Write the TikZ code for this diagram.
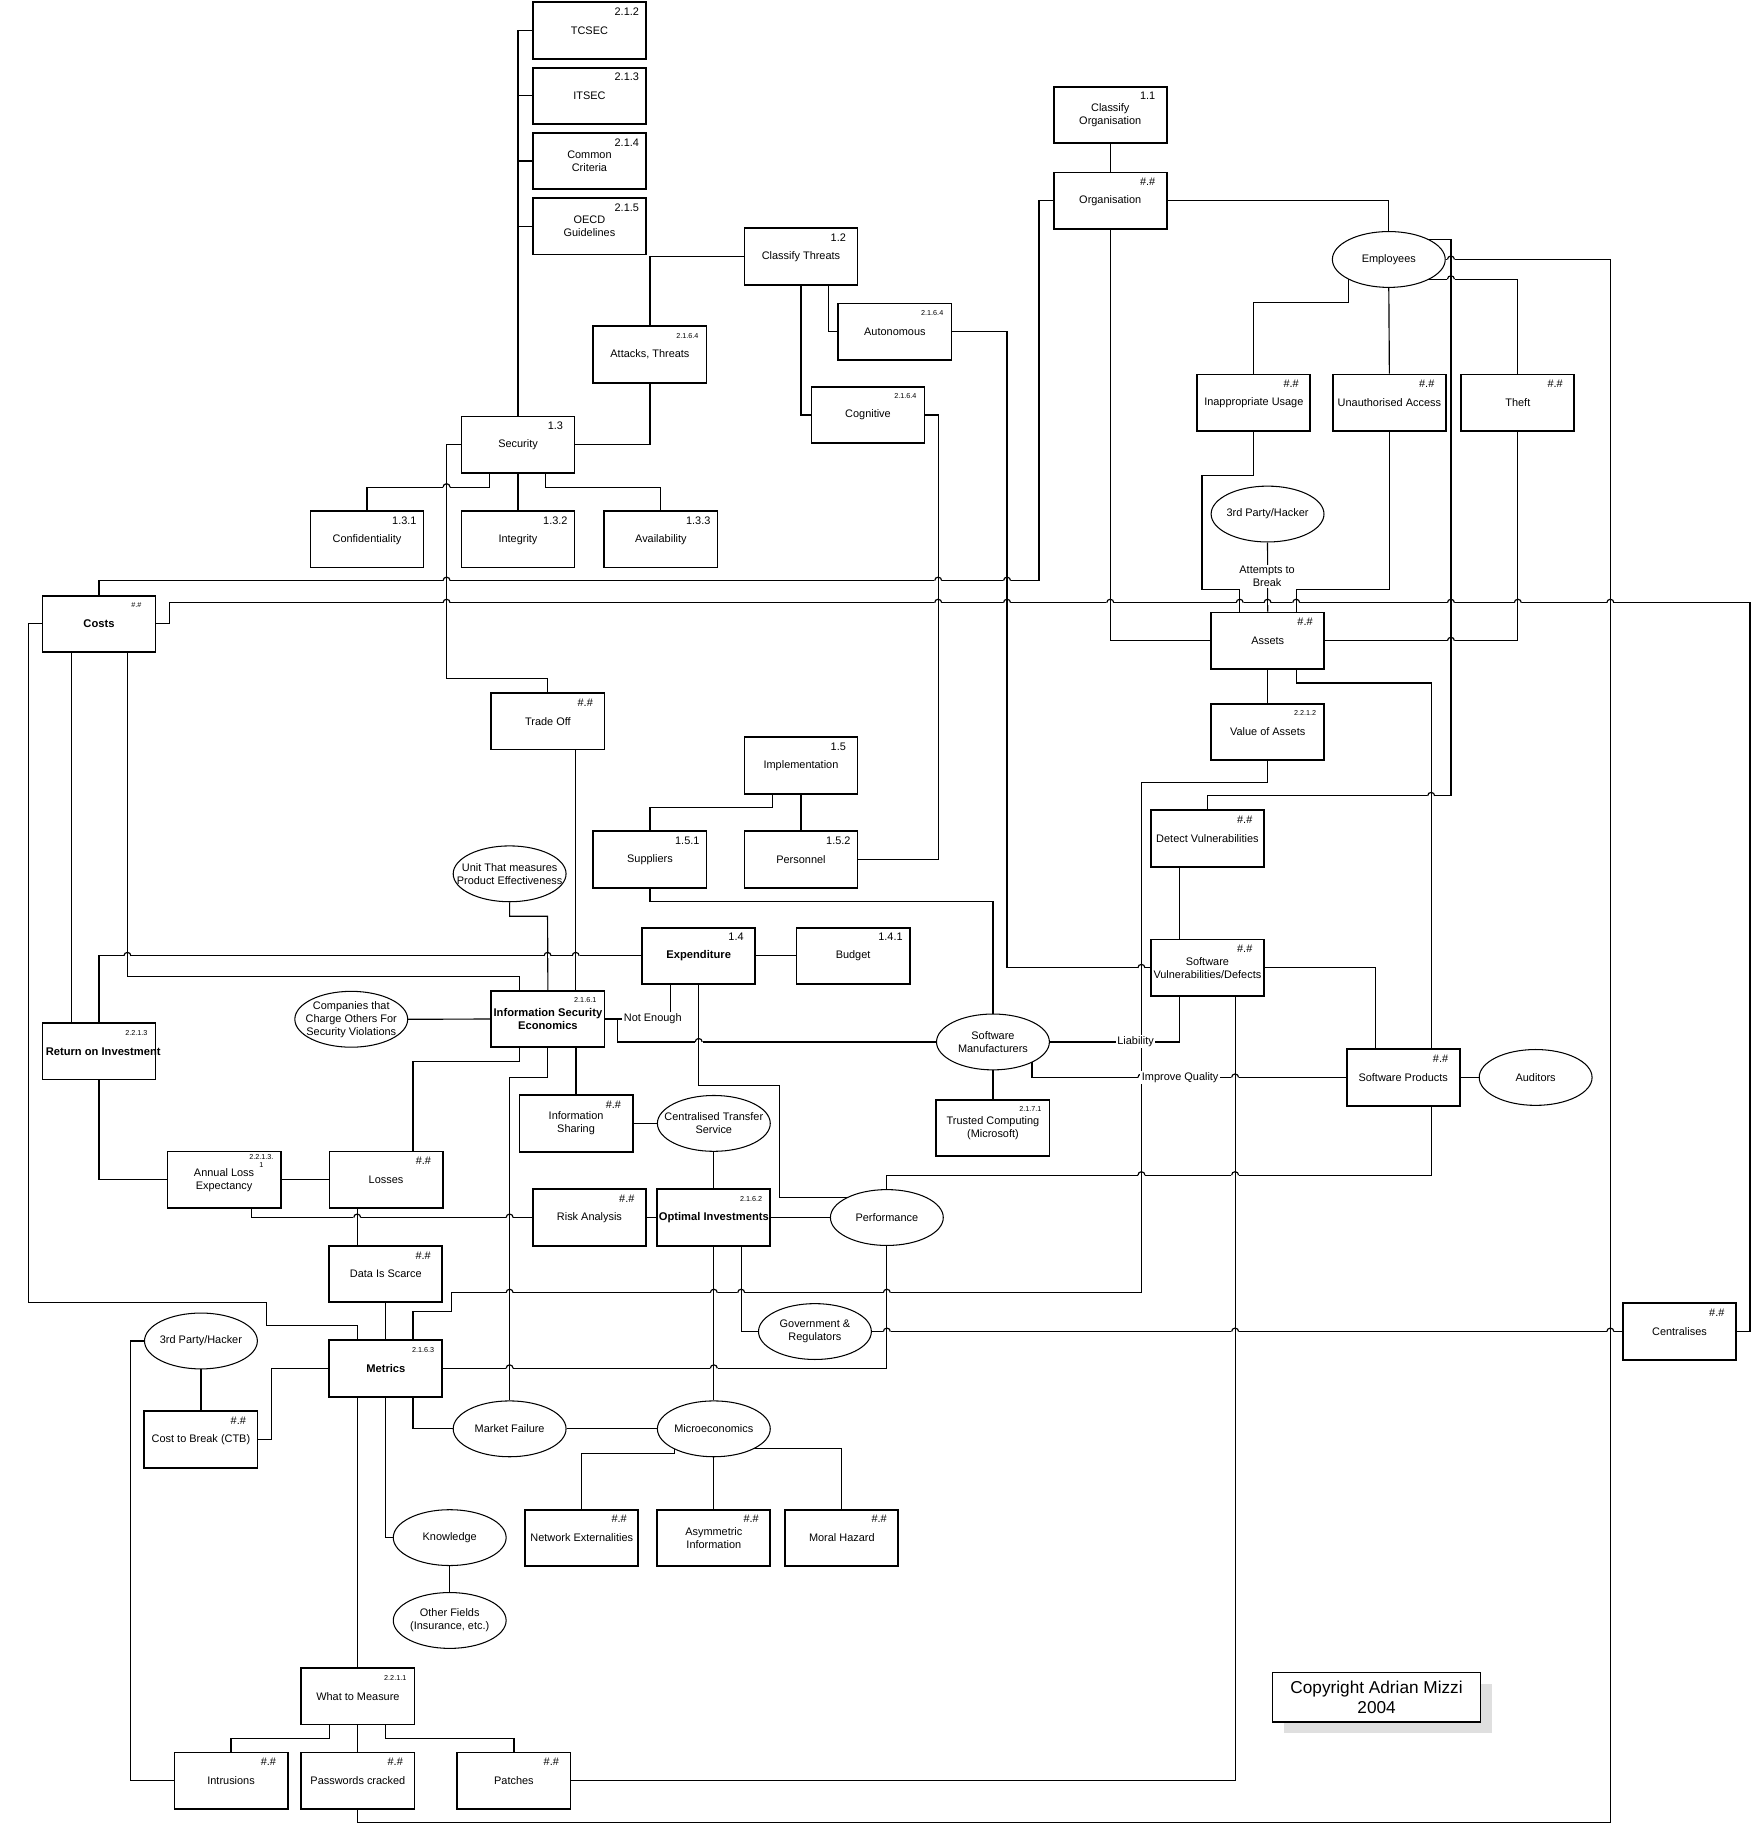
\documentclass[tikz,border=0pt]{standalone}
\usepackage{fontspec}
\setmainfont{Liberation Sans}
\usetikzlibrary{shapes.geometric,calc}
\pgfdeclarelayer{background}
\pgfsetlayers{background,main}
\newcommand\fsn{\fontsize{4.7}{5.6}\selectfont}
\newcommand\fsb{\fontsize{4.8}{5.8}\selectfont\bfseries}
\newcommand\fst{\fontsize{3.1}{3.6}\selectfont}
\newcommand\fsc{\fontsize{7.4}{8.2}\selectfont}
\tikzset{
 boxst/.style={draw, line width=0.8pt, fill=white, minimum width=48.6pt, minimum height=24.3pt, inner sep=0pt},
 ellst/.style={ellipse, draw, line width=0.45pt, fill=white, minimum width=48.5pt, minimum height=24pt, inner sep=0pt},
 txt/.style={align=center, inner sep=0pt, font=\fsn},
 txtb/.style={align=center, inner sep=0pt, font=\fsb},
 nbn/.style={inner sep=0pt, font=\fsn},
 nbt/.style={inner sep=0pt, font=\fst, align=center},
 conn/.style={line width=0.5pt},
 lbl/.style={fill=white, inner sep=0.6pt, font=\fsn, align=center},
}
\newcommand\mybox[6]{%
 \node[boxst] (#1) at (#2) {};
 \node[#5] (#1t) at (#1) {#3};
 \node[#6] (#1n) at ([shift={(-17.3,9)}]#1.north east) {#4};}
\newcommand\myell[3]{%
 \node[ellst] (#1) at (#2) {};
 \node[txt] (#1t) at (#1) {#3};}
% line hop: horizontal line jumps over a vertical one at (x,y)
\newcommand\hop[2]{%
 \draw[white, line width=1.8pt] (#1-3.3,#2) -- (#1+3.3,#2);
 \draw[conn] (#1,#2-4.5) -- (#1,#2+4.5);
 \draw[conn] (#1-3,#2) arc[start angle=180, end angle=0, radius=1.5pt];}
\begin{document}
\begin{tikzpicture}[x=0.5pt, y=-0.5pt]
\useasboundingbox (0,0) rectangle (1510,1568.5);
% ---------- nodes ----------
\mybox{tcsec}{506.6,26.3}{TCSEC}{2.1.2}{txt}{nbn}
\mybox{itsec}{506.6,82.4}{ITSEC}{2.1.3}{txt}{nbn}
\mybox{ccrit}{506.6,138.3}{Common\\Criteria}{2.1.4}{txt}{nbn}
\mybox{oecd}{506.6,194.4}{OECD\\Guidelines}{2.1.5}{txt}{nbn}
\mybox{cthr}{688.4,220.6}{Classify Threats}{1.2}{txt}{nbn}
\mybox{auton}{769.1,285.1}{Autonomous}{2.1.6.4}{txt}{nbt}
\mybox{cogn}{746,356.6}{Cognitive}{2.1.6.4}{txt}{nbt}
\mybox{attk}{558.6,304.6}{Attacks, Threats}{2.1.6.4}{txt}{nbt}
\mybox{secu}{445.2,382.3}{Security}{1.3}{txt}{nbn}
\mybox{conf}{315.4,463.4}{Confidentiality}{1.3.1}{txt}{nbn}
\mybox{integ}{445.2,463.4}{Integrity}{1.3.2}{txt}{nbn}
\mybox{avail}{568,463.4}{Availability}{1.3.3}{txt}{nbn}
\mybox{corg}{954.2,98.8}{Classify\\Organisation}{1.1}{txt}{nbn}
\mybox{orgn}{954.2,172.6}{Organisation}{\#.\#}{txt}{nbn}
\myell{empl}{1193.6,223}{Employees}
\mybox{inap}{1077.6,346.2}{Inappropriate Usage}{\#.\#}{txt}{nbn}
\mybox{unau}{1194.1,346.2}{Unauthorised Access}{\#.\#}{txt}{nbn}
\mybox{theft}{1304.5,346.2}{Theft}{\#.\#}{txt}{nbn}
\myell{hackA}{1089.4,441.8}{3rd Party/Hacker}
\mybox{asset}{1089.5,550.7}{Assets}{\#.\#}{txt}{nbn}
\mybox{voa}{1089.5,629}{Value of Assets}{2.2.1.2}{txt}{nbt}
\mybox{detv}{1037.7,720.8}{Detect Vulnerabilities}{\#.\#}{txt}{nbn}
\mybox{swv}{1037.7,831.8}{Software\\Vulnerabilities/Defects}{\#.\#}{txt}{nbn}
\mybox{swp}{1206,926}{Software Products}{\#.\#}{txt}{nbn}
\myell{audit}{1319.8,926}{Auditors}
\myell{swm}{853.4,895.5}{Software\\Manufacturers}
\mybox{trc}{853.4,969.5}{Trusted Computing\\(Microsoft)}{2.1.7.1}{txt}{nbt}
\mybox{costs}{85.1,536.2}{Costs}{\#.\#}{txtb}{nbt}
\mybox{trade}{470.9,619.8}{Trade Off}{\#.\#}{txt}{nbn}
\mybox{impl}{688.4,658}{Implementation}{1.5}{txt}{nbn}
\mybox{supp}{558.6,738.6}{Suppliers}{1.5.1}{txt}{nbn}
\mybox{pers}{688.4,738.6}{Personnel}{1.5.2}{txt}{nbn}
\myell{unit}{438,751}{Unit That measures\\Product Effectiveness}
\mybox{expd}{600.5,821.5}{Expenditure}{1.4}{txtb}{nbn}
\mybox{budg}{733.2,821.5}{Budget}{1.4.1}{txt}{nbn}
\mybox{ise}{470.9,875.8}{Information Security\\Economics}{2.1.6.1}{txtb}{nbt}
\myell{comp}{301.9,876}{Companies that\\Charge Others For\\Security Violations}
\mybox{roi}{85.1,903.5}{Return on Investment}{2.2.1.3}{txtb,xshift=1.8pt}{nbt}
\mybox{infs}{495.1,965.5}{Information\\Sharing}{\#.\#}{txt}{nbn}
\myell{cts}{613.5,965.5}{Centralised Transfer\\Service}
\mybox{ale}{192.6,1014}{Annual Loss\\Expectancy}{2.2.1.3.\\1}{txt}{nbt}
\mybox{loss}{331.8,1014}{Losses}{\#.\#}{txt}{nbn}
\mybox{risk}{506.6,1046.4}{Risk Analysis}{\#.\#}{txt}{nbn}
\mybox{optm}{613.5,1046.4}{Optimal Investments}{2.1.6.2}{txtb}{nbt}
\myell{perf}{762.2,1046.4}{Performance}
\mybox{dis}{331.6,1095}{Data Is Scarce}{\#.\#}{txt}{nbn}
\myell{gov}{700.4,1144.4}{Government \&\\Regulators}
\mybox{cent}{1443.4,1144.4}{Centralises}{\#.\#}{txt}{nbn}
\myell{hackB}{172.7,1152.5}{3rd Party/Hacker}
\mybox{metr}{331.6,1176}{Metrics}{2.1.6.3}{txtb}{nbt}
\mybox{ctb}{172.7,1237}{Cost to Break (CTB)}{\#.\#}{txt}{nbn}
\myell{mfail}{438,1228}{Market Failure}
\myell{micro}{613.5,1228}{Microeconomics}
\mybox{netx}{500,1321.7}{Network Externalities}{\#.\#}{txt}{nbn}
\mybox{asym}{613.5,1321.7}{Asymmetric\\Information}{\#.\#}{txt}{nbn}
\mybox{moral}{723.5,1321.7}{Moral Hazard}{\#.\#}{txt}{nbn}
\myell{know}{386.5,1321.5}{Knowledge}
\myell{other}{386.5,1392.7}{Other Fields\\(Insurance, etc.)}
\mybox{wtm}{307.6,1457.8}{What to Measure}{2.2.1.1}{txt}{nbt}
\mybox{intr}{198.6,1530.5}{Intrusions}{\#.\#}{txt}{nbn}
\mybox{pwd}{307.6,1530.5}{Passwords cracked}{\#.\#}{txt}{nbn}
\mybox{patch}{441.7,1530.5}{Patches}{\#.\#}{txt}{nbn}
% connector labels
\node[lbl] (lab1) at (1089,495.5) {Attempts to\\Break};
\node[lbl] (lab2) at (561,875.5) {Not Enough};
\node[lbl] (lab3) at (976,895.5) {Liability};
\node[lbl] (lab4) at (1014.3,926) {Improve Quality};
% copyright
\fill[gray!25] (1103.3,1447) rectangle (1282,1489.6);
\node[draw, line width=0.6pt, fill=white, minimum width=89.4pt, minimum height=21.2pt, inner sep=0pt, align=center, font=\fsc] (copy) at (1183.1,1458.8) {Copyright Adrian Mizzi\\2004};
% ---------- connectors ----------
\begin{pgfonlayer}{background}
\fill[white] (0,0) rectangle (1510,1568.5);
\begin{scope}[conn]
\draw (secu.north) |- (tcsec.west);
\draw (445.2,82.4) -- (itsec.west);
\draw (445.2,138.3) -- (ccrit.west);
\draw (445.2,194.4) -- (oecd.west);
\draw (cthr.west) -| (attk.north);
\draw (attk.south) |- (secu.east);
\draw (cthr.south) |- (cogn.west);
\draw (711.8,0 |- cthr.south) |- (auton.west);
\draw (420.8,0 |- secu.south) -- (420.8,418.7) -| (conf.north);
\draw (secu.south) -- (integ.north);
\draw (468.6,0 |- secu.south) -- (468.6,418.7) -| (avail.north);
\draw (secu.west) -| (383.8,583) -| (trade.north);
\draw (corg.south) -- (orgn.north);
\draw (orgn.east) -| (empl.north);
\draw (orgn.west) -| (893,499) -| (costs.north);
\draw (orgn.south) |- (asset.west);
\draw (empl.center |- 0,206) -| (1247,684) -| (detv.north);
\draw (empl.east) -| (1384,1566.5) -| (pwd.south);
\draw (empl.center |- 0,240) -| (theft.north);
\draw (1159,0 |- empl.center) -- (1159,260) -| (inap.north);
\draw (empl.south) -- (unau.north);
\draw (inap.south) |- (1033,409) -- (1033,506.5) -| (1065.5,0 |- asset.north);
\draw (unau.south) |- (1114,506.5) -- (1114,0 |- asset.north);
\draw (hackA.south) -- (asset.north);
\draw (theft.south) |- (asset.east);
\draw (asset.south) -- (voa.north);
\draw (1114,0 |- asset.south) |- (1230,587) -- (1230,1010) -| (perf.north);
\draw (voa.south) |- (981,672.5) -- (981,1111) -| (388,1127) -| (355,0 |- metr.north);
\draw (costs.east) -| (145.5,518) -| (1504,1144.4) -- (cent.east);
\draw (costs.west) -| (24.7,1119.5) -| (229,1139) -| (307,0 |- metr.north);
\draw (61.7,0 |- costs.south) -- (61.7,0 |- roi.north);
\draw (109.5,0 |- costs.south) |- (446.5,839) -- (446.5,0 |- ise.north);
\draw (roi.north) |- (expd.west);
\draw (roi.south) |- (ale.west);
\draw (ale.east) -- (loss.west);
\draw (216,0 |- ale.south) |- (risk.west);
\draw (307,0 |- loss.south) -- (307,0 |- dis.north);
\draw (dis.south) -- (metr.north);
\draw (446.5,0 |- ise.south) |- (355,912) -- (355,0 |- loss.north);
\draw (ise.south) |- (438,926) -- (mfail.north);
\draw (495.1,0 |- ise.south) -- (infs.north);
\draw (infs.east) -- (cts.west);
\draw (cts.south) -- (optm.north);
\draw (risk.east) -- (optm.west);
\draw (optm.east) -- (perf.west);
\draw (optm.south) -- (micro.north);
\draw (637,0 |- optm.south) |- (gov.west);
\draw (gov.east) -- (cent.west);
\draw (494.8,0 |- trade.south) -- (494.8,0 |- ise.north);
\draw (unit.south) |- (470.6,787.5) -- (ise.north);
\draw (comp.east) -- (ise.west);
\draw (expd.east) -- (budg.west);
\draw (576,0 |- expd.south) |- (ise.east);
\draw (ise.east) -| (531,895.5) -- (swm.west);
\draw (expd.south) |- (670,933) |- (perf.center |- 0,1029);
\draw (supp.south) |- (swm.north |- 0,774.5) -- (swm.north);
\draw (664,0 |- impl.south) |- (supp.north |- 0,693.8) -- (supp.north);
\draw (impl.south) -- (pers.north);
\draw (cogn.east) -| (806.3,738.6) -- (pers.east);
\draw (auton.east) -| (865.5,831.8) -- (swv.west);
\draw (1013.4,0 |- detv.south) -- (1013.4,0 |- swv.north);
\draw (1013.4,0 |- swv.south) |- (swm.east);
\draw (swv.east) -| (1182,0 |- swp.north);
\draw (887,0 |- swm.center) |- (swp.west);
\draw (swm.south) -- (trc.north);
\draw (swp.east) -- (audit.west);
\draw (patch.east) -| (1061.5,0 |- swv.south);
\draw (metr.west) -| (233,1237) -- (ctb.east);
\draw (ctb.north) -- (hackB.south);
\draw (hackB.west) -| (112.5,1530.5) -- (intr.west);
\draw (metr.east) -| (perf.south);
\draw (wtm.north |- metr.south) -- (wtm.north);
\draw (metr.south) |- (know.west);
\draw (355,0 |- metr.south) |- (mfail.west);
\draw (mfail.east) -- (micro.west);
\draw (580,0 |- micro.center) |- (netx.north |- 0,1249) -- (netx.north);
\draw (micro.south) -- (asym.north);
\draw (micro.center |- 0,1245) -| (moral.north);
\draw (know.south) -- (other.north);
\draw (283,0 |- wtm.south) -- (283,1494) -| (intr.north);
\draw (wtm.south) -- (pwd.north);
\draw (331,0 |- wtm.south) -- (331,1494) -| (patch.north);
\end{scope}
% line hops at crossings
\hop{383.8}{518}\hop{806.3}{518}\hop{865.5}{518}\hop{954.2}{518}
\hop{1065.5}{518}\hop{1089.4}{518}\hop{1114}{518}\hop{1247}{518}
\hop{1304.5}{518}\hop{1384}{518}
\hop{383.8}{499}\hop{806.3}{499}\hop{865.5}{499}
\hop{383.8}{418.7}
\hop{1247}{550.7}\hop{1247}{223}\hop{1247}{240}
\hop{1230}{684}
\hop{109.5}{821.5}\hop{470.6}{821.5}\hop{494.8}{821.5}
\hop{981}{831.8}
\hop{600.5}{895.5}
\hop{981}{926}\hop{1061.5}{926}
\hop{981}{1010}\hop{1061.5}{1010}
\hop{307}{1046.4}\hop{438}{1046.4}
\hop{438}{1111}\hop{613.5}{1111}\hop{637}{1111}\hop{762.2}{1111}
\hop{762.2}{1144.4}\hop{1061.5}{1144.4}\hop{1384}{1144.4}
\hop{438}{1176}\hop{613.5}{1176}
\end{pgfonlayer}
\end{tikzpicture}
\end{document}
